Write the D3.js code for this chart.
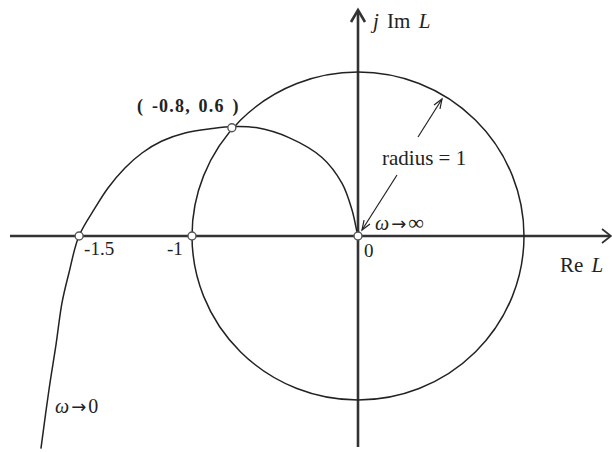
<!DOCTYPE html>
<html><head><meta charset="utf-8">
<script src="https://cdn.jsdelivr.net/npm/d3@7"></script>
<style>
html,body{margin:0;padding:0;background:#fff;}
svg{display:block;}
text{font-family:"Liberation Serif","DejaVu Serif",serif;fill:#222;}
.ar{font-family:"DejaVu Sans",sans-serif;}
</style></head>
<body>
<script>
// Nyquist curve of L(jω) (Re, Im)
const curveRe = [-1.91, -1.861, -1.819, -1.783, -1.741, -1.681, -1.584, -1.506, -1.404, -1.301, -1.181, -1.042, -0.88, -0.753, -0.614, -0.416, -0.217, -0.096, -0.036, -0.006, 0];
const curveIm = [-1.297, -0.933, -0.661, -0.406, -0.224, 0, 0.171, 0.293, 0.415, 0.506, 0.579, 0.628, 0.655, 0.668, 0.661, 0.600, 0.479, 0.321, 0.158, 0.024, 0];
// marked points
const markRe = [0, -1, -1.68, -0.76];
const markIm = [0, 0, 0, 0.66];
// axis tick labels
const tickVals = [-1.68, -1, 0];
const tickLabels = ["-1.5", "-1", "0"];
const unitRadius = 1;

const W = 612, H = 452;
const svg = d3.select("body").append("svg").attr("width", W).attr("height", H);
const x = d3.scaleLinear().domain([-1, 1]).range([192, 524]);
const y = d3.scaleLinear().domain([-1, 1]).range([400, 72]);

const ink = "#222";
// axes
svg.append("line").attr("x1", 10).attr("x2", 610).attr("y1", y(0)).attr("y2", y(0))
  .attr("stroke", "#333").attr("stroke-width", 2.6);
svg.append("path").attr("d", `M${602},${y(0)-7} L${611},${y(0)} L${602},${y(0)+7}`)
  .attr("fill", "none").attr("stroke", "#333").attr("stroke-width", 1.8);
svg.append("line").attr("x1", x(0)).attr("x2", x(0)).attr("y1", 447).attr("y2", 12)
  .attr("stroke", "#333").attr("stroke-width", 2.6);
svg.append("path").attr("d", `M${x(0)-7},${22} L${x(0)},${10} L${x(0)+7},${22}`)
  .attr("fill", "none").attr("stroke", "#333").attr("stroke-width", 2.6);

// unit circle
svg.append("ellipse").attr("cx", x(0)).attr("cy", y(0))
  .attr("rx", x(unitRadius) - x(0)).attr("ry", y(0) - y(unitRadius))
  .attr("fill", "none").attr("stroke", ink).attr("stroke-width", 1.5);

// Nyquist curve
const pts = curveRe.map((r, i) => [r, curveIm[i]]);
svg.append("path").datum(pts)
  .attr("d", d3.line().x(d => x(d[0])).y(d => y(d[1])).curve(d3.curveCatmullRom.alpha(0.5)))
  .attr("fill", "none").attr("stroke", ink).attr("stroke-width", 1.5);

// markers
svg.selectAll("circle.mk").data(markRe.map((r, i) => [r, markIm[i]])).join("circle")
  .attr("class", "mk").attr("cx", d => x(d[0])).attr("cy", d => y(d[1])).attr("r", 4)
  .attr("fill", "#fff").attr("stroke", "#555").attr("stroke-width", 1.4);

// tick labels
const tickDx = [5, -25, 6];
svg.selectAll("text.tk").data(tickVals).join("text").attr("class", "tk")
  .attr("x", (d, i) => x(d) + tickDx[i]).attr("y", (d, i) => i === 2 ? 257 : 255)
  .attr("font-size", 19).text((d, i) => tickLabels[i]);

// axis titles
const im = svg.append("text").attr("x", 373).attr("y", 28).attr("font-size", 21).attr("word-spacing", 3);
im.append("tspan").attr("font-style", "italic").text("j");
im.append("tspan").text(" Im ");
im.append("tspan").attr("font-style", "italic").text("L");
const re = svg.append("text").attr("x", 560).attr("y", 272).attr("font-size", 21).attr("word-spacing", 3);
re.append("tspan").text("Re ");
re.append("tspan").attr("font-style", "italic").text("L");

// point label
svg.append("text").attr("x", 137).attr("y", 112).attr("font-size", 18).attr("font-weight", "bold")
  .attr("letter-spacing", 1.2).attr("word-spacing", 2).text("( -0.8, 0.6 )");

// radius annotation
svg.append("text").attr("x", 382).attr("y", 165).attr("font-size", 21).text("radius = 1");
function arrow(x1, y1, x2, y2) {
  svg.append("line").attr("x1", x1).attr("y1", y1).attr("x2", x2).attr("y2", y2)
    .attr("stroke", ink).attr("stroke-width", 1.2);
  const a = Math.atan2(y2 - y1, x2 - x1), L = 10, s = 0.36;
  svg.append("path").attr("d",
    `M${x2 - L*Math.cos(a - s)},${y2 - L*Math.sin(a - s)} L${x2},${y2} L${x2 - L*Math.cos(a + s)},${y2 - L*Math.sin(a + s)}`)
    .attr("fill", "none").attr("stroke", ink).attr("stroke-width", 1.2);
}
arrow(418, 137, 442, 99);
arrow(397, 175, 362, 230);

// omega labels
function omega(tx, ty, end) {
  const t = svg.append("text").attr("x", tx).attr("y", ty).attr("font-size", 20);
  t.append("tspan").attr("font-style", "italic").text("ω");
  t.append("tspan").attr("class", "ar").attr("font-size", 18).attr("dx", 2).text("→");
  t.append("tspan").attr("dx", 2).attr("font-size", end === "∞" ? 22 : 20).text(end);
}
omega(375, 230, "∞");
omega(55, 413, "0");
</script>
</body></html>
